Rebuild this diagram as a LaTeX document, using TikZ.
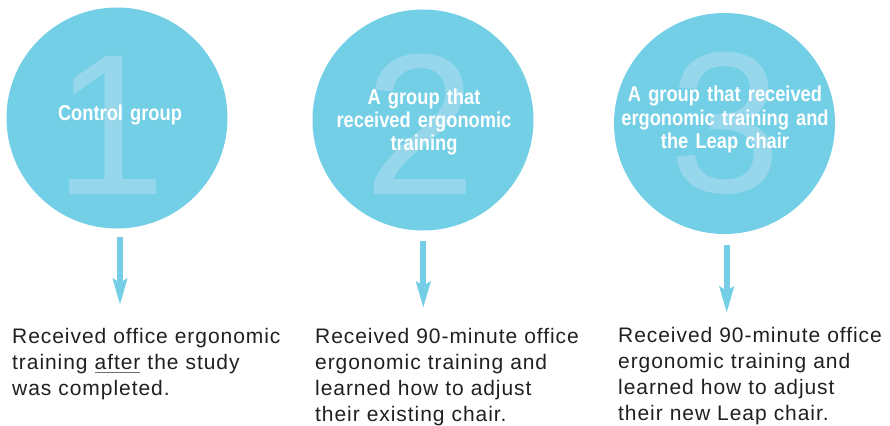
\documentclass[tikz,border=0pt]{standalone}
\usepackage{fontspec}
\usetikzlibrary{arrows.meta}
\setmainfont{Liberation Sans}
\newfontfamily\bodyfont[LetterSpace=4.5]{Liberation Sans}
\newfontfamily\condfont[FakeStretch=0.85]{Liberation Sans Bold}
\newfontfamily\digitfont{Liberation Sans}
\definecolor{circblue}{HTML}{72CFE6}
\definecolor{digitblue}{HTML}{97D7EC}
\definecolor{arrblue}{HTML}{74CFE6}
\definecolor{bodytext}{HTML}{231F20}
\definecolor{ulgray}{HTML}{6D6E71}
\newcommand\ulafter[1]{\setbox0\hbox{#1}\rlap{\color{ulgray}\rule[-3.5pt]{\wd0}{1.2pt}}\box0\relax}
\tikzset{
  groupcircle/.style={circle, fill=circblue, draw=none, minimum size=221pt, inner sep=0pt},
  bigdigit/.style={anchor=base, inner sep=0pt, text=digitblue, font=\digitfont\fontsize{201}{201}\selectfont},
  circtext/.style={anchor=base, inner sep=0pt, text=white, text width=240pt, align=center,
    font=\condfont\fontsize{21.5}{23.5}\selectfont},
  bodybox/.style={anchor=base west, inner sep=0pt, text=bodytext, text width=300pt, align=left,
    font=\bodyfont\fontsize{21}{26.2}\selectfont},
  flow/.style={draw=arrblue, line width=6pt, -{Stealth[width=14pt,length=26pt,inset=4pt]}}
}
\begin{document}
\begin{tikzpicture}[x=1pt,y=-1pt]
\useasboundingbox (0,0) rectangle (890,425);
% circles
\node[groupcircle] (c1) at (117,118) {};
\node[groupcircle] (c2) at (423,120) {};
\node[groupcircle] (c3) at (724.5,123.5) {};
% big digits
\node[bigdigit] (d1) at (110,194) {1};
\node[bigdigit] (d2) at (420,194) {2};
\node[bigdigit] (d3) at (725.5,192) {3};
% circle labels
\node[circtext] (l1) at (120,120.7) {Control group};
\node[circtext] (l2) at (424,104) {A group that\\received ergonomic\\training};
\node[circtext] (l3) at (725,101.7) {A group that received\\ergonomic training and\\the Leap chair};
% descriptions
\node[bodybox] (t1) at (12,343) {Received office ergonomic\\training \ulafter{after} the study\\was completed.};
\node[bodybox] (t2) at (315,343) {Received 90-minute office\\ergonomic training and\\learned how to adjust\\their existing chair.};
\node[bodybox] (t3) at (618,342) {Received 90-minute office\\ergonomic training and\\learned how to adjust\\their new Leap chair.};
% arrow tips
\coordinate (p1) at (120,305);
\coordinate (p2) at (423.3,308);
\coordinate (p3) at (726.7,313);
\draw[flow, shorten <=8pt] (c1.south -| p1) -- (p1);
\draw[flow, shorten <=10pt] (c2.south -| p2) -- (p2);
\draw[flow, shorten <=11pt] (c3.south -| p3) -- (p3);
\end{tikzpicture}
\end{document}
